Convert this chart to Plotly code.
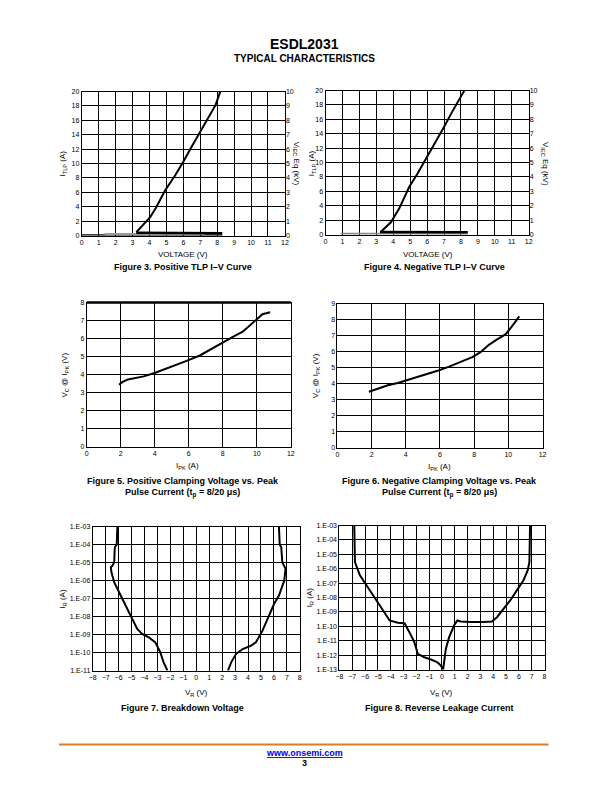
import plotly.graph_objects as go

# ---------------- DATA ----------------
# Figure 3: Positive TLP I-V curve
f3_v = [3.22, 3.55, 4.04, 4.39, 4.92, 5.5, 5.99, 6.48, 7.06, 7.55, 7.9, 8.14, 8.2]
f3_i = [0.46, 1.3, 2.55, 3.9, 6.25, 8.3, 10.2, 12.3, 14.7, 16.7, 18.1, 19.7, 20.1]
f3_leak_black_v = [3.22, 5.0, 7.0, 8.3]
f3_leak_black_i = [0.4, 0.35, 0.3, 0.3]
f3_leak_gray_v = [1.35, 4.0, 7.3]
f3_leak_gray_i = [0.2, 0.2, 0.2]
f3_base_v = [0.0, 8.3]
f3_base_i = [0.05, 0.05]

# Figure 4: Negative TLP I-V curve
f4_v = [3.24, 3.47, 3.86, 4.35, 4.94, 5.42, 5.91, 6.5, 6.99, 7.47, 7.86, 8.2]
f4_i = [0.32, 0.8, 1.7, 3.6, 6.6, 8.4, 10.4, 12.85, 14.9, 17.0, 18.65, 20.0]
f4_leak_black_v = [3.22, 5.5, 8.4]
f4_leak_black_i = [0.35, 0.3, 0.3]
f4_leak_gray_v = [0.9, 4.0, 8.4]
f4_leak_gray_i = [0.1, 0.1, 0.1]

# Figure 5: Positive clamping voltage vs peak pulse current
f5_ipk = [1.9, 2.09, 2.42, 2.77, 3.35, 4.03, 4.9, 5.87, 6.65, 7.42, 7.91, 8.59, 9.17, 9.55, 9.94, 10.33, 10.78]
f5_vc = [3.43, 3.58, 3.73, 3.79, 3.9, 4.1, 4.4, 4.76, 5.06, 5.49, 5.76, 6.1, 6.38, 6.7, 7.03, 7.35, 7.46]

# Figure 6: Negative clamping voltage vs peak pulse current
f6_ipk = [1.84, 2.36, 2.95, 3.53, 4.11, 4.88, 5.47, 5.95, 6.53, 7.21, 7.89, 8.37, 8.86, 9.34, 9.83, 10.21, 10.64]
f6_vc = [3.49, 3.7, 3.89, 4.04, 4.23, 4.46, 4.67, 4.83, 5.06, 5.38, 5.65, 5.96, 6.42, 6.76, 7.07, 7.57, 8.2]

# Figure 7: Breakdown voltage (log10 of current)
f7_left_v = [-6.09, -6.14, -6.29, -6.34, -6.47, -6.6, -6.55, -6.34, -5.96, -5.58, -5.07, -4.56, -4.18, -3.67, -3.16, -2.78, -2.52, -2.22]
f7_left_log = [-3.0, -4.0, -4.15, -4.98, -5.17, -5.26, -5.54, -6.09, -6.65, -7.2, -7.94, -8.69, -8.96, -9.15, -9.43, -9.98, -10.54, -11.0]
f7_right_v = [6.39, 6.45, 6.57, 6.65, 6.78, 6.9, 6.8, 6.39, 6.01, 5.63, 5.12, 4.61, 4.23, 3.59, 3.08, 2.7, 2.45]
f7_right_log = [-3.0, -4.0, -4.15, -4.98, -5.17, -5.35, -6.0, -6.83, -7.3, -7.94, -8.78, -9.43, -9.61, -9.8, -10.07, -10.54, -11.0]

# Figure 8: Reverse leakage current
f8_v = [-6.84, -6.84, -6.79, -6.4, -5.89, -5.24, -4.6, -4.08, -3.44, -2.92, -2.54, -2.15, -1.89, -1.38, -0.86, -0.35, -0.09, 0.04,
        0.09, 0.3, 0.56, 0.94, 1.2, 1.46, 2.23, 3.26, 3.9, 4.29, 4.81, 5.32, 5.84, 6.36, 6.69, 6.82, 6.87]
f8_log = [-3.0, -4.5, -5.53, -6.46, -7.15, -7.97, -8.89, -9.59, -9.75, -9.78, -10.4, -11.1, -11.9, -12.14, -12.3, -12.5, -12.72, -13.0,
          -13.0, -11.56, -10.75, -9.94, -9.59, -9.66, -9.7, -9.7, -9.66, -9.36, -8.78, -8.2, -7.5, -6.8, -6.1, -5.53, -3.0]

log_ticks7 = [-11, -10, -9, -8, -7, -6, -5, -4, -3]
log_ticks8 = [-13, -12, -11, -10, -9, -8, -7, -6, -5, -4, -3]

FONT = "Liberation Sans, Arial, Helvetica, sans-serif"
W, H = 612, 792

fig = go.Figure()

# page-pixel -> paper fraction (with a small correction for the capture's offset/scale)
def px_x(p):
    return ((p - 2.5) / 0.996) / W

def px_y(p):
    return 1 - ((p - 3.5) / 0.991) / H

line_style = dict(color="black", width=2)

# traces
fig.add_trace(go.Scatter(x=f3_base_v, y=f3_base_i, mode="lines", line=dict(color="black", width=2), xaxis="x", yaxis="y"))
fig.add_trace(go.Scatter(x=f3_leak_gray_v, y=f3_leak_gray_i, mode="lines", line=dict(color="#999999", width=2), xaxis="x", yaxis="y"))
fig.add_trace(go.Scatter(x=f3_leak_black_v, y=f3_leak_black_i, mode="lines", line=dict(color="black", width=2.5), xaxis="x", yaxis="y"))
fig.add_trace(go.Scatter(x=f3_v, y=f3_i, mode="lines", line=line_style, xaxis="x", yaxis="y"))

fig.add_trace(go.Scatter(x=f4_leak_gray_v, y=f4_leak_gray_i, mode="lines", line=dict(color="#888888", width=2), xaxis="x2", yaxis="y2"))
fig.add_trace(go.Scatter(x=f4_leak_black_v, y=f4_leak_black_i, mode="lines", line=dict(color="black", width=2.5), xaxis="x2", yaxis="y2"))
fig.add_trace(go.Scatter(x=f4_v, y=f4_i, mode="lines", line=line_style, xaxis="x2", yaxis="y2"))

fig.add_trace(go.Scatter(x=f5_ipk, y=f5_vc, mode="lines", line=line_style, xaxis="x3", yaxis="y3"))
fig.add_trace(go.Scatter(x=f6_ipk, y=f6_vc, mode="lines", line=line_style, xaxis="x4", yaxis="y4"))

fig.add_trace(go.Scatter(x=f7_left_v, y=[10 ** v for v in f7_left_log], mode="lines", line=line_style, xaxis="x5", yaxis="y5"))
fig.add_trace(go.Scatter(x=f7_right_v, y=[10 ** v for v in f7_right_log], mode="lines", line=line_style, xaxis="x5", yaxis="y5"))
fig.add_trace(go.Scatter(x=f8_v, y=[10 ** v for v in f8_log], mode="lines", line=line_style, xaxis="x6", yaxis="y6"))

tickfont = dict(family=FONT, size=7, color="black")

def xax(domain, rng, dtick, anchor):
    return dict(domain=domain, range=rng, anchor=anchor, showgrid=True, gridcolor="black", gridwidth=1,
                showline=True, linecolor="black", linewidth=1, mirror=True, ticks="", zeroline=False,
                tickfont=tickfont, fixedrange=True, tickmode="linear", tick0=rng[0], dtick=dtick)

def yax(domain, rng, dtick, anchor):
    return dict(domain=domain, range=rng, anchor=anchor, showgrid=True, gridcolor="black", gridwidth=1,
                showline=True, linecolor="black", linewidth=1, mirror=True, ticks="", zeroline=False,
                tickfont=tickfont, tickmode="linear", tick0=rng[0], dtick=dtick, fixedrange=True)

def logyax(domain, exps, anchor):
    return dict(domain=domain, type="log", range=[exps[0], exps[-1]], anchor=anchor, showgrid=True,
                gridcolor="black", showline=True, linecolor="black", linewidth=1, mirror=True, ticks="",
                zeroline=False, tickfont=tickfont, tickmode="array", tickvals=[10 ** v for v in exps],
                ticktext=["1.E%03d" % v for v in exps], fixedrange=True)

d3x = [px_x(81), px_x(286)]
d3y = [px_y(235), px_y(91)]
d4x = [px_x(327), px_x(532)]
d4y = [px_y(234), px_y(90)]
d5x = [px_x(86), px_x(292)]
d5y = [px_y(446), px_y(302)]
d6x = [px_x(339), px_x(546)]
d6y = [px_y(447), px_y(303)]
d7x = [px_x(92), px_x(301)]
d7y = [px_y(670), px_y(526)]
d8x = [px_x(341), px_x(548)]
d8y = [px_y(669), px_y(525)]

fig.update_layout(
    width=W, height=H, margin=dict(l=0, r=0, t=0, b=0),
    paper_bgcolor="white", plot_bgcolor="white", showlegend=False,
    font=dict(family=FONT, color="black"),
    xaxis=xax(d3x, [0, 12], 1, "y"),
    yaxis=yax(d3y, [0, 20], 2, "x"),
    xaxis2=xax(d4x, [0, 12], 1, "y2"),
    yaxis2=yax(d4y, [0, 20], 2, "x2"),
    xaxis3=xax(d5x, [0, 12], 2, "y3"),
    yaxis3=yax(d5y, [0, 8], 1, "x3"),
    xaxis4=xax(d6x, [0, 12], 2, "y4"),
    yaxis4=yax(d6y, [0, 9], 1, "x4"),
    xaxis5=xax(d7x, [-8, 8], 1, "y5"),
    yaxis5=logyax(d7y, log_ticks7, "x5"),
    xaxis6=xax(d8x, [-8, 8], 1, "y6"),
    yaxis6=logyax(d8y, log_ticks8, "x6"),
    yaxis7=dict(domain=d3y, range=[0, 10], overlaying="y", side="right", anchor="x", showgrid=False,
                showline=False, ticks="", zeroline=False, tickfont=tickfont, tickmode="linear", tick0=0, dtick=1,
                fixedrange=True),
    yaxis8=dict(domain=d4y, range=[0, 10], overlaying="y2", side="right", anchor="x2", showgrid=False,
                showline=False, ticks="", zeroline=False, tickfont=tickfont, tickmode="linear", tick0=0, dtick=1,
                fixedrange=True),
)
# invisible traces so the right-hand kV axes are drawn
fig.add_trace(go.Scatter(x=[0], y=[0], mode="markers", marker=dict(opacity=0), xaxis="x", yaxis="y7", hoverinfo="skip"))
fig.add_trace(go.Scatter(x=[0], y=[0], mode="markers", marker=dict(opacity=0), xaxis="x2", yaxis="y8", hoverinfo="skip"))

ann = []

def text(x, y, t, size=8, bold=False, angle=0, color="black"):
    if bold:
        t = "<b>" + t + "</b>"
    ann.append(dict(x=px_x(x), y=px_y(y), xref="paper", yref="paper", text=t, showarrow=False,
                    font=dict(family=FONT, size=size, color=color), textangle=angle,
                    xanchor="center", yanchor="middle"))

# Page headers
text(306, 43, "ESDL2031", size=14, bold=True)
text(306, 58, "TYPICAL CHARACTERISTICS", size=10, bold=True)

# Figure 3
text(183, 254, "VOLTAGE (V)")
text(183, 266, "Figure 3. Positive TLP I\u2013V Curve", size=9, bold=True)
text(62, 163, "I<sub>TLP</sub> (A)", angle=-90)
text(298, 163, "V<sub>IEC</sub> Eq (kV)", angle=90)
# Figure 4
text(430, 254, "VOLTAGE (V)")
text(437, 266, "Figure 4. Negative TLP I\u2013V Curve", size=9, bold=True)
text(313, 163, "I<sub>TLP</sub> (A)", angle=-90)
text(549, 163, "V<sub>IEC</sub> Eq (kV)", angle=90)
# Figure 5
text(188, 465, "I<sub>PK</sub> (A)")
text(183, 480, "Figure 5. Positive Clamping Voltage vs. Peak", size=9, bold=True)
text(183, 492, "Pulse Current (t<sub>p</sub> = 8/20 \u03bcs)", size=9, bold=True)
text(64, 374, "V<sub>C</sub> @ I<sub>PK</sub> (V)", angle=-90)
# Figure 6
text(442, 466, "I<sub>PK</sub> (A)")
text(442, 480, "Figure 6. Negative Clamping Voltage vs. Peak", size=9, bold=True)
text(442, 492, "Pulse Current (t<sub>p</sub> = 8/20 \u03bcs)", size=9, bold=True)
text(317, 375, "V<sub>C</sub> @ I<sub>PK</sub> (V)", angle=-90)
# Figure 7
text(197, 692, "V<sub>R</sub> (V)")
text(183, 707, "Figure 7. Breakdown Voltage", size=9, bold=True)
text(62, 598, "I<sub>R</sub> (A)", angle=-90)
# Figure 8
text(444, 692, "V<sub>R</sub> (V)")
text(442, 707, "Figure 8. Reverse Leakage Current", size=9, bold=True)
text(311, 597, "I<sub>R</sub> (A)", angle=-90)

# Footer
text(306, 752, "<u>www.onsemi.com</u>", size=9, bold=True, color="#0000EE")
text(306, 762, "3", size=9, bold=True)

fig.update_layout(annotations=ann)

# footer rule and the heavier top border of Figure 5
fig.add_shape(type="line", xref="paper", yref="paper", x0=px_x(58), x1=px_x(552), y0=px_y(744), y1=px_y(744),
              line=dict(color="#E07B20", width=2))
fig.add_shape(type="line", xref="paper", yref="paper", x0=d5x[0], x1=d5x[1], y0=d5y[1], y1=d5y[1],
              line=dict(color="black", width=2.5))

fig.write_html("out.html", config={"displayModeBar": False},
               post_script="document.body.style.margin='0';document.body.style.overflow='hidden';")
